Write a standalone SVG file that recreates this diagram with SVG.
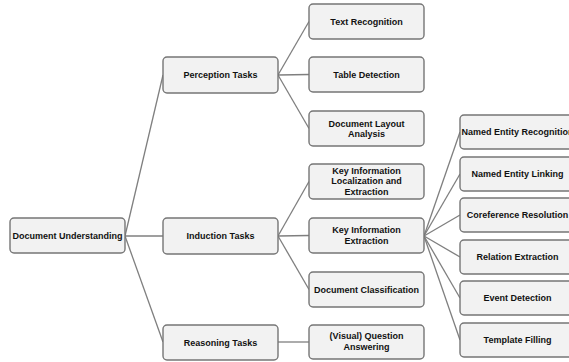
<svg xmlns="http://www.w3.org/2000/svg" width="569" height="362" viewBox="0 0 569 362">
<style>
.box{fill:#f2f2f2;stroke:#767676;stroke-width:1.4}
.t{font-family:"Liberation Sans",Arial,sans-serif;font-weight:bold;font-size:9px;fill:#111;text-anchor:middle}
.c line{stroke:#7f7f7f;stroke-width:1.3}
</style>
<rect width="569" height="362" fill="#fff"/>
<g class="c" id="connectors">
<line x1="125" y1="236" x2="163" y2="75"/>
<line x1="125" y1="236" x2="163" y2="236"/>
<line x1="125" y1="236" x2="163" y2="342"/>
<line x1="278" y1="75" x2="309" y2="21.5"/>
<line x1="278" y1="75" x2="309" y2="74.5"/>
<line x1="278" y1="75" x2="309" y2="128.5"/>
<line x1="278" y1="236" x2="309" y2="181.5"/>
<line x1="278" y1="236" x2="309" y2="235.5"/>
<line x1="278" y1="236" x2="309" y2="289.5"/>
<line x1="278" y1="342" x2="309" y2="342"/>
<line x1="424" y1="236" x2="460" y2="132"/>
<line x1="424" y1="236" x2="460" y2="174"/>
<line x1="424" y1="236" x2="460" y2="215"/>
<line x1="424" y1="236" x2="460" y2="257"/>
<line x1="424" y1="236" x2="460" y2="298"/>
<line x1="424" y1="236" x2="460" y2="340"/>
</g>
<g id="doc-understanding"><rect class="box" x="10" y="218" width="115" height="35" rx="4"/><text class="t" x="67.5" y="238.7">Document Understanding</text></g>
<g id="perception"><rect class="box" x="163" y="57" width="115" height="36" rx="4"/><text class="t" x="220.5" y="78.2">Perception Tasks</text></g>
<g id="induction"><rect class="box" x="163" y="218" width="115" height="36" rx="4"/><text class="t" x="220.5" y="239.2">Induction Tasks</text></g>
<g id="reasoning"><rect class="box" x="163" y="325" width="115" height="35" rx="4"/><text class="t" x="220.5" y="345.7">Reasoning Tasks</text></g>
<g id="text-recognition"><rect class="box" x="309" y="4" width="115" height="35" rx="4"/><text class="t" x="366.5" y="24.7">Text Recognition</text></g>
<g id="table-detection"><rect class="box" x="309" y="57" width="115" height="35" rx="4"/><text class="t" x="366.5" y="77.7">Table Detection</text></g>
<g id="layout-analysis"><rect class="box" x="309" y="111" width="115" height="35" rx="4"/><text class="t" x="366.5" y="126.5">Document Layout</text><text class="t" x="366.5" y="137">Analysis</text></g>
<g id="kilx"><rect class="box" x="309" y="164" width="115" height="35" rx="4"/><text class="t" x="366.5" y="173.9">Key Information</text><text class="t" x="366.5" y="184.4">Localization and</text><text class="t" x="366.5" y="194.9">Extraction</text></g>
<g id="kie"><rect class="box" x="309" y="218" width="115" height="35" rx="4"/><text class="t" x="366.5" y="233">Key Information</text><text class="t" x="366.5" y="243.6">Extraction</text></g>
<g id="doc-classification"><rect class="box" x="309" y="272" width="115" height="35" rx="4"/><text class="t" x="366.5" y="292.7">Document Classification</text></g>
<g id="vqa"><rect class="box" x="309" y="325" width="115" height="34" rx="4"/><text class="t" x="366.5" y="339">(Visual) Question</text><text class="t" x="366.5" y="349.6">Answering</text></g>
<g id="ner"><rect class="box" x="460" y="115" width="115" height="34" rx="4"/><text class="t" x="517.5" y="135.2">Named Entity Recognition</text></g>
<g id="nel"><rect class="box" x="460" y="157" width="115" height="34" rx="4"/><text class="t" x="517.5" y="177.2">Named Entity Linking</text></g>
<g id="coref"><rect class="box" x="460" y="198" width="115" height="34" rx="4"/><text class="t" x="517.5" y="218.2">Coreference Resolution</text></g>
<g id="relation"><rect class="box" x="460" y="240" width="115" height="34" rx="4"/><text class="t" x="517.5" y="260.2">Relation Extraction</text></g>
<g id="event"><rect class="box" x="460" y="281" width="115" height="34" rx="4"/><text class="t" x="517.5" y="301.2">Event Detection</text></g>
<g id="template"><rect class="box" x="460" y="323" width="115" height="34" rx="4"/><text class="t" x="517.5" y="343.2">Template Filling</text></g>
</svg>
